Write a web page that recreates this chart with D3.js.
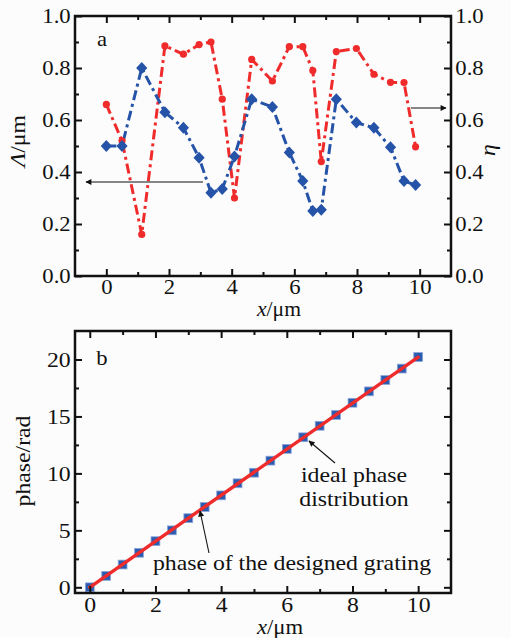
<!DOCTYPE html>
<html>
<head>
<meta charset="utf-8">
<script src="https://cdn.jsdelivr.net/npm/d3@7"></script>
<style>
  body { margin: 0; background: #fcfcfc; }
  svg { display: block; }
  text { font-family: "Liberation Serif", "Times New Roman", serif; fill: #111; }
</style>
</head>
<body>
<svg id="chart" width="511" height="638"></svg>
<script>
// ---- Panel a: grating period and diffraction efficiency along x ----
const positionA = [0, 0.5, 1.13, 1.87, 2.46, 2.96, 3.34, 3.7, 4.09, 4.64, 5.3,
                   5.84, 6.27, 6.59, 6.86, 7.34, 7.98, 8.54, 9.07, 9.5, 9.87];
const period = [0.50, 0.50, 0.80, 0.63, 0.57, 0.455, 0.32, 0.335, 0.46, 0.68, 0.65,
                0.475, 0.365, 0.25, 0.255, 0.68, 0.59, 0.57, 0.495, 0.365, 0.35];
const efficiency = [0.66, 0.52, 0.16, 0.885, 0.853, 0.89, 0.90, 0.68, 0.30, 0.833, 0.75,
                    0.882, 0.882, 0.79, 0.44, 0.863, 0.875, 0.776, 0.745, 0.744, 0.497];
const ticksA_x = [0, 2, 4, 6, 8, 10];
const minorA_x = [1, 3, 5, 7, 9];
const ticksA_y = [0, 0.2, 0.4, 0.6, 0.8, 1.0];
const minorA_y = [0.1, 0.3, 0.5, 0.7, 0.9];

// ---- Panel b: phase of the designed grating vs ideal phase ----
const positionB = [0, 0.5, 1, 1.5, 2, 2.5, 3, 3.5, 4, 4.5, 5,
                   5.5, 6, 6.5, 7, 7.5, 8, 8.5, 9, 9.5, 10];
const phase = [0, 1.0, 2.0, 3.03, 4.05, 5.0, 6.07, 7.05, 8.07, 9.13, 10.06,
               11.12, 12.15, 13.17, 14.18, 15.13, 16.2, 17.2, 18.2, 19.2, 20.22];
const idealX = [0, 10];
const idealPhase = [0, 20.2];
const ticksB_x = [0, 2, 4, 6, 8, 10];
const minorB_x = [1, 3, 5, 7, 9];
const ticksB_y = [0, 5, 10, 15, 20];
const minorB_y = [2.5, 7.5, 12.5, 17.5];

const RED = "#ef2b2b";
const BLUE = "#2553a8";
const STRETCH = 1.08;   // the serif face is set slightly wide

const svg = d3.select("#chart");

// arrowhead used by the annotations
svg.append("defs").append("marker")
  .attr("id", "arrow").attr("viewBox", "0 0 10 10")
  .attr("refX", 9).attr("refY", 5)
  .attr("markerWidth", 9).attr("markerHeight", 6)
  .attr("markerUnits", "userSpaceOnUse")
  .attr("orient", "auto")
  .append("path").attr("d", "M0,0 L10,5 L0,10 Z").attr("fill", "#111");

function stretched(sel) {
  sel.attr("transform", function () {
    const t = d3.select(this).attr("transform") || "";
    return t + ` scale(${STRETCH},1)`;
  });
}

// framed axes with inward major/minor ticks on all four sides
function frame(x, y, o) {
  const [xl, xr] = x.range();
  const [yb, yt] = y.range();
  const g = svg.append("g");
  const fs = o.fontSize;

  const add = (axis, tr, labels) => {
    const a = g.append("g").attr("transform", tr).call(axis);
    a.select(".domain").remove();
    a.selectAll("line").attr("stroke", "#111").attr("stroke-width", 2);
    a.selectAll("text").style("font-size", fs + "px").attr("fill", "#111");
    if (labels) stretched(a.selectAll("text"));
    return a;
  };

  add(d3.axisBottom(x).tickValues(o.xMajor).tickSize(-7).tickPadding(o.padB).tickFormat(o.xFmt), `translate(0,${yb})`, true);
  add(d3.axisBottom(x).tickValues(o.xMinor).tickSize(-4).tickFormat(""), `translate(0,${yb})`);
  add(d3.axisTop(x).tickValues(o.xMajor).tickSize(-7).tickFormat(""), `translate(0,${yt})`);
  add(d3.axisTop(x).tickValues(o.xMinor).tickSize(-4).tickFormat(""), `translate(0,${yt})`);
  add(d3.axisLeft(y).tickValues(o.yMajor).tickSize(-7).tickPadding(o.padL).tickFormat(o.yFmt), `translate(${xl},0)`, true);
  add(d3.axisLeft(y).tickValues(o.yMinor).tickSize(-4).tickFormat(""), `translate(${xl},0)`);
  add(d3.axisRight(y).tickValues(o.yMajor).tickSize(-7).tickPadding(o.padR).tickFormat(o.rightLabels ? o.yFmt : ""), `translate(${xr},0)`, true);
  add(d3.axisRight(y).tickValues(o.yMinor).tickSize(-4).tickFormat(""), `translate(${xr},0)`);

  g.append("rect")
    .attr("x", xl).attr("y", yt)
    .attr("width", xr - xl).attr("height", yb - yt)
    .attr("fill", "none").attr("stroke", "#111").attr("stroke-width", 2.5);
}

function label(x, y, parts, size, rotate) {
  const t = svg.append("text")
    .attr("transform", `translate(${x},${y})` + (rotate ? ` rotate(${rotate})` : "") + ` scale(${STRETCH},1)`)
    .attr("text-anchor", "middle")
    .style("font-size", size + "px");
  parts.forEach(p => t.append("tspan").attr("font-style", p[1] ? "italic" : "normal").text(p[0]));
  return t;
}

function arrow(x1, y1, x2, y2) {
  svg.append("line")
    .attr("x1", x1).attr("y1", y1).attr("x2", x2).attr("y2", y2)
    .attr("stroke", "#111").attr("stroke-width", 1.1)
    .attr("marker-end", "url(#arrow)");
}

// ================= panel a =================
const xA = d3.scaleLinear().domain([-1, 11]).range([75, 451]);
const yA = d3.scaleLinear().domain([0, 1]).range([276, 16]);

const dashDot = "10,4,3,4";
const lineA = vals => d3.line()
  .x((d, i) => xA(positionA[i]))
  .y(d => yA(d))(vals);

svg.append("path").attr("d", lineA(efficiency))
  .attr("fill", "none").attr("stroke", RED).attr("stroke-width", 3)
  .attr("stroke-dasharray", dashDot);
svg.append("path").attr("d", lineA(period))
  .attr("fill", "none").attr("stroke", BLUE).attr("stroke-width", 3)
  .attr("stroke-dasharray", dashDot);

svg.append("g").selectAll("circle").data(efficiency).join("circle")
  .attr("cx", (d, i) => xA(positionA[i])).attr("cy", d => yA(d))
  .attr("r", 3.6).attr("fill", RED);

svg.append("g").selectAll("path").data(period).join("path")
  .attr("transform", (d, i) => `translate(${xA(positionA[i])},${yA(d)})`)
  .attr("d", "M0,-6 L5.6,0 L0,6 L-5.6,0 Z")
  .attr("fill", BLUE);

frame(xA, yA, {
  fontSize: 21, xMajor: ticksA_x, xMinor: minorA_x, yMajor: ticksA_y, yMinor: minorA_y,
  xFmt: d3.format("d"), yFmt: d3.format(".1f"), padB: 3, padL: 4, padR: 4, rightLabels: true
});

arrow(203, 182, 86, 182);
arrow(411, 108, 446, 108);

label(102, 46, [["a", false]], 21);
label(25, 141, [["\u039B", true], ["/\u03BCm", false]], 22, -90);
label(495, 150, [["\u03B7", true]], 22, -90);
label(279, 316, [["x", true], ["/\u03BCm", false]], 20);

// ================= panel b =================
const xB = d3.scaleLinear().domain([-0.45, 11]).range([75, 451]);
const yB = d3.scaleLinear().domain([-0.5, 22.5]).range([593, 331]);

svg.append("g").selectAll("rect").data(phase).join("rect")
  .attr("x", (d, i) => xB(positionB[i]) - 4.4)
  .attr("y", d => yB(d) - 4.4)
  .attr("width", 8.8).attr("height", 8.8)
  .attr("fill", "#2b5bb0").attr("stroke", "#8aa6d8").attr("stroke-width", 0.8);

svg.append("path")
  .attr("d", d3.line().x((d, i) => xB(idealX[i])).y(d => yB(d))(idealPhase))
  .attr("fill", "none").attr("stroke", RED).attr("stroke-width", 3.4)
  .attr("stroke-linecap", "round");

frame(xB, yB, {
  fontSize: 22, xMajor: ticksB_x, xMinor: minorB_x, yMajor: ticksB_y, yMinor: minorB_y,
  xFmt: d3.format("d"), yFmt: d3.format("d"), padB: 3, padL: 4, padR: 4, rightLabels: false
});

arrow(335, 463, 309, 441);
arrow(209, 553, 200, 511);

label(354, 482, [["ideal phase", false]], 22);
label(354, 506, [["distribution", false]], 22);
label(292, 570, [["phase of the designed grating", false]], 22);

label(102, 365, [["b", false]], 21);
label(30, 461, [["phase/rad", false]], 22, -90);
label(280, 634, [["x", true], ["/\u03BCm", false]], 21);
</script>
</body>
</html>
